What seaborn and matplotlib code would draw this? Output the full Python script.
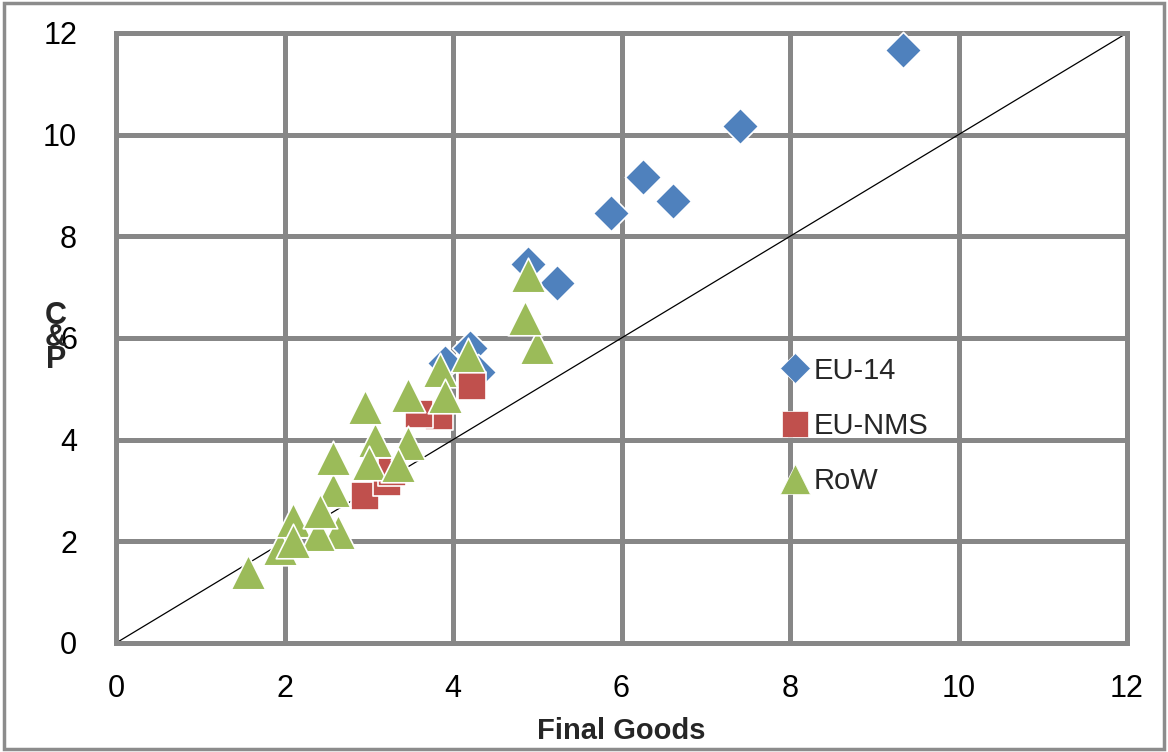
import matplotlib
matplotlib.use("Agg")
import matplotlib.pyplot as plt
import seaborn as sns
import pandas as pd
from matplotlib.patches import Rectangle

# ---- data ----
eu14_x = [9.34, 7.41, 6.26, 6.61, 5.88, 5.23, 4.89, 4.20, 4.30, 3.90]
eu14_y = [11.67, 10.17, 9.17, 8.70, 8.46, 7.08, 7.45, 5.80, 5.33, 5.50]

nms_x = [4.22, 3.83, 3.60, 2.96, 3.22, 3.28]
nms_y = [5.05, 4.47, 4.50, 2.90, 3.17, 3.36]

row_x = [1.57, 1.95, 2.10, 2.58, 2.63, 2.40, 2.58, 3.07, 3.47, 2.96, 3.47,
         3.85, 4.18, 5.00, 4.89, 4.85, 3.90, 3.00, 3.35, 2.42, 2.10]
row_y = [1.40, 1.87, 2.42, 3.01, 2.18, 2.15, 3.64, 3.99, 3.93, 4.64, 4.88,
         5.37, 5.67, 5.82, 7.24, 6.39, 4.85, 3.55, 3.50, 2.60, 2.00]

series = ["EU-14", "EU-NMS", "RoW"]
colors = {"EU-14": "#4F81BD", "EU-NMS": "#C0504D", "RoW": "#9BBB59"}
markers = {"EU-14": "D", "EU-NMS": "s", "RoW": "^"}
sizes = {"EU-14": 340, "EU-NMS": 430, "RoW": 620}

ticks = [0, 2, 4, 6, 8, 10, 12]

df = pd.concat([
    pd.DataFrame({"fg": eu14_x, "cp": eu14_y, "region": "EU-14"}),
    pd.DataFrame({"fg": nms_x, "cp": nms_y, "region": "EU-NMS"}),
    pd.DataFrame({"fg": row_x, "cp": row_y, "region": "RoW"}),
], ignore_index=True)

sns.set_style("white")
plt.rcParams["font.family"] = ["Liberation Sans Narrow", "Liberation Sans", "DejaVu Sans"]

fig = plt.figure(figsize=(11.68, 7.52), dpi=100)
ax = fig.add_axes([116 / 1168, 1 - 643 / 752, (1127 - 116) / 1168, (643 - 33) / 752])

grid_col = "#878787"
ax.set_xlim(0, 12)
ax.set_ylim(0, 12)
ax.set_xticks(ticks)
ax.set_yticks(ticks)
ax.grid(True, color=grid_col, linewidth=3.6, zorder=0)
ax.set_axisbelow(True)
for sp in ax.spines.values():
    sp.set_visible(True)
    sp.set_color(grid_col)
    sp.set_linewidth(3.6)

# 45-degree reference line
sns.lineplot(x=[0, 12], y=[0, 12], color="black", linewidth=0.9, ax=ax, zorder=2)

handles = []
for i, name in enumerate(series):
    sub = df[df["region"] == name]
    sns.scatterplot(data=sub, x="fg", y="cp", marker=markers[name], s=sizes[name],
                    color=colors[name], edgecolor="white", linewidth=1.2,
                    ax=ax, zorder=3 + i, legend=False, clip_on=False)
    handles.append(plt.Line2D([], [], linestyle="none", marker=markers[name],
                              markersize={"D": 15, "s": 19, "^": 22}[markers[name]],
                              markerfacecolor=colors[name], markeredgecolor="white",
                              markeredgewidth=0.5, label=name))

ax.tick_params(axis="both", which="both", length=0, labelsize=22, colors="black")
ax.tick_params(axis="y", pad=28)
ax.tick_params(axis="x", pad=22)

ax.set_xlabel("Final Goods", fontsize=21, fontweight="bold", labelpad=10)
ax.set_ylabel("")
fig.text(56 / 1168, 1 - 338 / 752, "C\n&\nP", fontsize=22, fontweight="bold",
         ha="center", va="center", linespacing=0.65)

leg = fig.legend(handles=handles, loc="upper left",
                 bbox_to_anchor=(761 / 1168, 1 - 342 / 752), frameon=False,
                 fontsize=21, handletextpad=0.0, labelspacing=0.93,
                 handlelength=1.3, borderpad=0)

# figure border
fig.patches.append(Rectangle((0.003, 0.004), 0.994, 0.992, transform=fig.transFigure,
                             fill=False, edgecolor="#8c8c8c", linewidth=2.5))

fig.savefig("out.png", dpi=100)
